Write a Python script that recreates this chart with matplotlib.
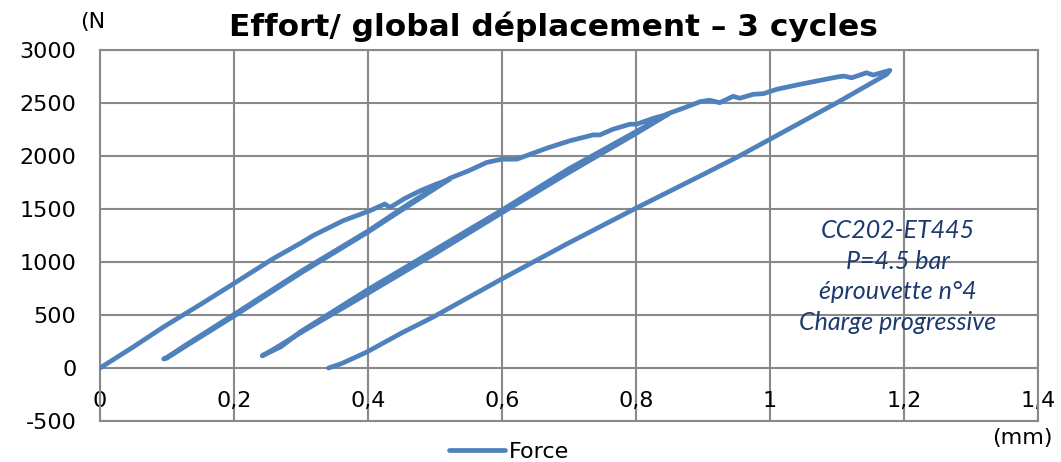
import numpy as np
from matplotlib import pyplot as plt

# displacement (mm) / force (N), segment by segment
load1_x = [0, 0.05, 0.0945, 0.15, 0.199, 0.258, 0.30, 0.318, 0.363, 0.403, 0.425, 0.433, 0.455, 0.478, 0.50, 0.522]
load1_f = [0, 200, 386, 600, 794, 1030, 1180, 1249, 1390, 1484, 1547, 1515, 1600, 1672, 1730, 1782]

unload1_x = [0.522, 0.46, 0.398, 0.30, 0.20, 0.13, 0.10, 0.095]
unload1_f = [1782, 1530, 1275, 898, 490, 215, 95, 85]

load2_x = [0.095, 0.10, 0.13, 0.20, 0.30, 0.40, 0.46, 0.522, 0.55, 0.577, 0.60, 0.622, 0.667,
           0.701, 0.736, 0.746, 0.766, 0.791, 0.801, 0.826, 0.848]
load2_f = [85, 100, 225, 505, 912, 1292, 1545, 1790, 1860, 1939, 1970, 1970, 2074,
           2143, 2199, 2199, 2253, 2300, 2300, 2356, 2394]

unload2_x = [0.848, 0.80, 0.70, 0.60, 0.50, 0.40, 0.30, 0.26, 0.245, 0.242]
unload2_f = [2394, 2212, 1845, 1465, 1080, 705, 335, 180, 125, 115]

load3_x = [0.242, 0.25, 0.27, 0.30, 0.40, 0.50, 0.60, 0.70, 0.80, 0.848, 0.87, 0.896, 0.91, 0.925,
           0.945, 0.955, 0.975, 0.99, 1.01, 1.04, 1.075, 1.10, 1.11, 1.122, 1.144, 1.154, 1.179]
load3_f = [115, 140, 200, 345, 740, 1115, 1490, 1880, 2230, 2400, 2450, 2513, 2526, 2503,
           2563, 2545, 2582, 2588, 2629, 2670, 2714, 2745, 2754, 2738, 2785, 2764, 2808]

unload3_x = [1.179, 1.174, 1.10, 1.00, 0.95, 0.90, 0.80, 0.697, 0.60, 0.497, 0.45, 0.398, 0.36, 0.341]
unload3_f = [2808, 2770, 2503, 2158, 1986, 1825, 1508, 1171, 841, 480, 330, 150, 40, 0]

xticks = [0, 0.2, 0.4, 0.6, 0.8, 1.0, 1.2, 1.4]
xtick_labels = ['0', '0,2', '0,4', '0,6', '0,8', '1', '1,2', '1,4']
yticks = [-500, 0, 500, 1000, 1500, 2000, 2500, 3000]
ytick_labels = ['-500', '0', '500', '1000', '1500', '2000', '2500', '3000']

note = 'CC202-ET445\nP=4.5 bar\néprouvette n°4\nCharge progressive'

disp = np.concatenate([load1_x, unload1_x, load2_x, unload2_x, load3_x, unload3_x])
force = np.concatenate([load1_f, unload1_f, load2_f, unload2_f, load3_f, unload3_f])

plt.rcParams['font.family'] = 'DejaVu Sans'

fig = plt.figure(figsize=(10.61, 4.62), dpi=100)
ax = fig.add_axes([0.09425, 0.08874, 0.88407, 0.80303])

line, = ax.plot(disp, force, c='#4F81BD', linewidth=3.4,
                solid_capstyle='round', solid_joinstyle='round', zorder=3)

ax.set_xlim(0, 1.4)
ax.set_ylim(-500, 3000)
ax.set_xticks(xticks)
ax.set_xticklabels(xtick_labels)
ax.set_yticks(yticks)
ax.set_yticklabels(ytick_labels)
ax.grid(True, color='#898989', linewidth=1.5)
ax.set_axisbelow(True)
for s in ax.spines.values():
    s.set_color('#898989')
    s.set_linewidth(1.5)
ax.tick_params(axis='both', length=0, labelsize=16)
ax.tick_params(axis='y', pad=17)
ax.tick_params(axis='x', pad=-21.5)

fig.text(0.522, 0.922, 'Effort/ global déplacement – 3 cycles',
         ha='center', va='baseline', fontsize=22.5, fontweight='bold')
fig.text(0.087, 0.952, '(N', ha='center', va='center', fontsize=16)
fig.text(0.964, 0.052, '(mm)', ha='center', va='center', fontsize=16)

fig.text(0.846, 0.4015, note, ha='center', va='center', fontsize=18,
         family='Lato', style='italic', color='#1C3A6E', linespacing=1.4)

fig.legend([line], ['Force'], loc='center', bbox_to_anchor=(0.48, 0.022),
           frameon=False, fontsize=16, handlelength=2.5, handletextpad=0.2,
           borderpad=0)

plt.savefig('out.png', dpi=100)
